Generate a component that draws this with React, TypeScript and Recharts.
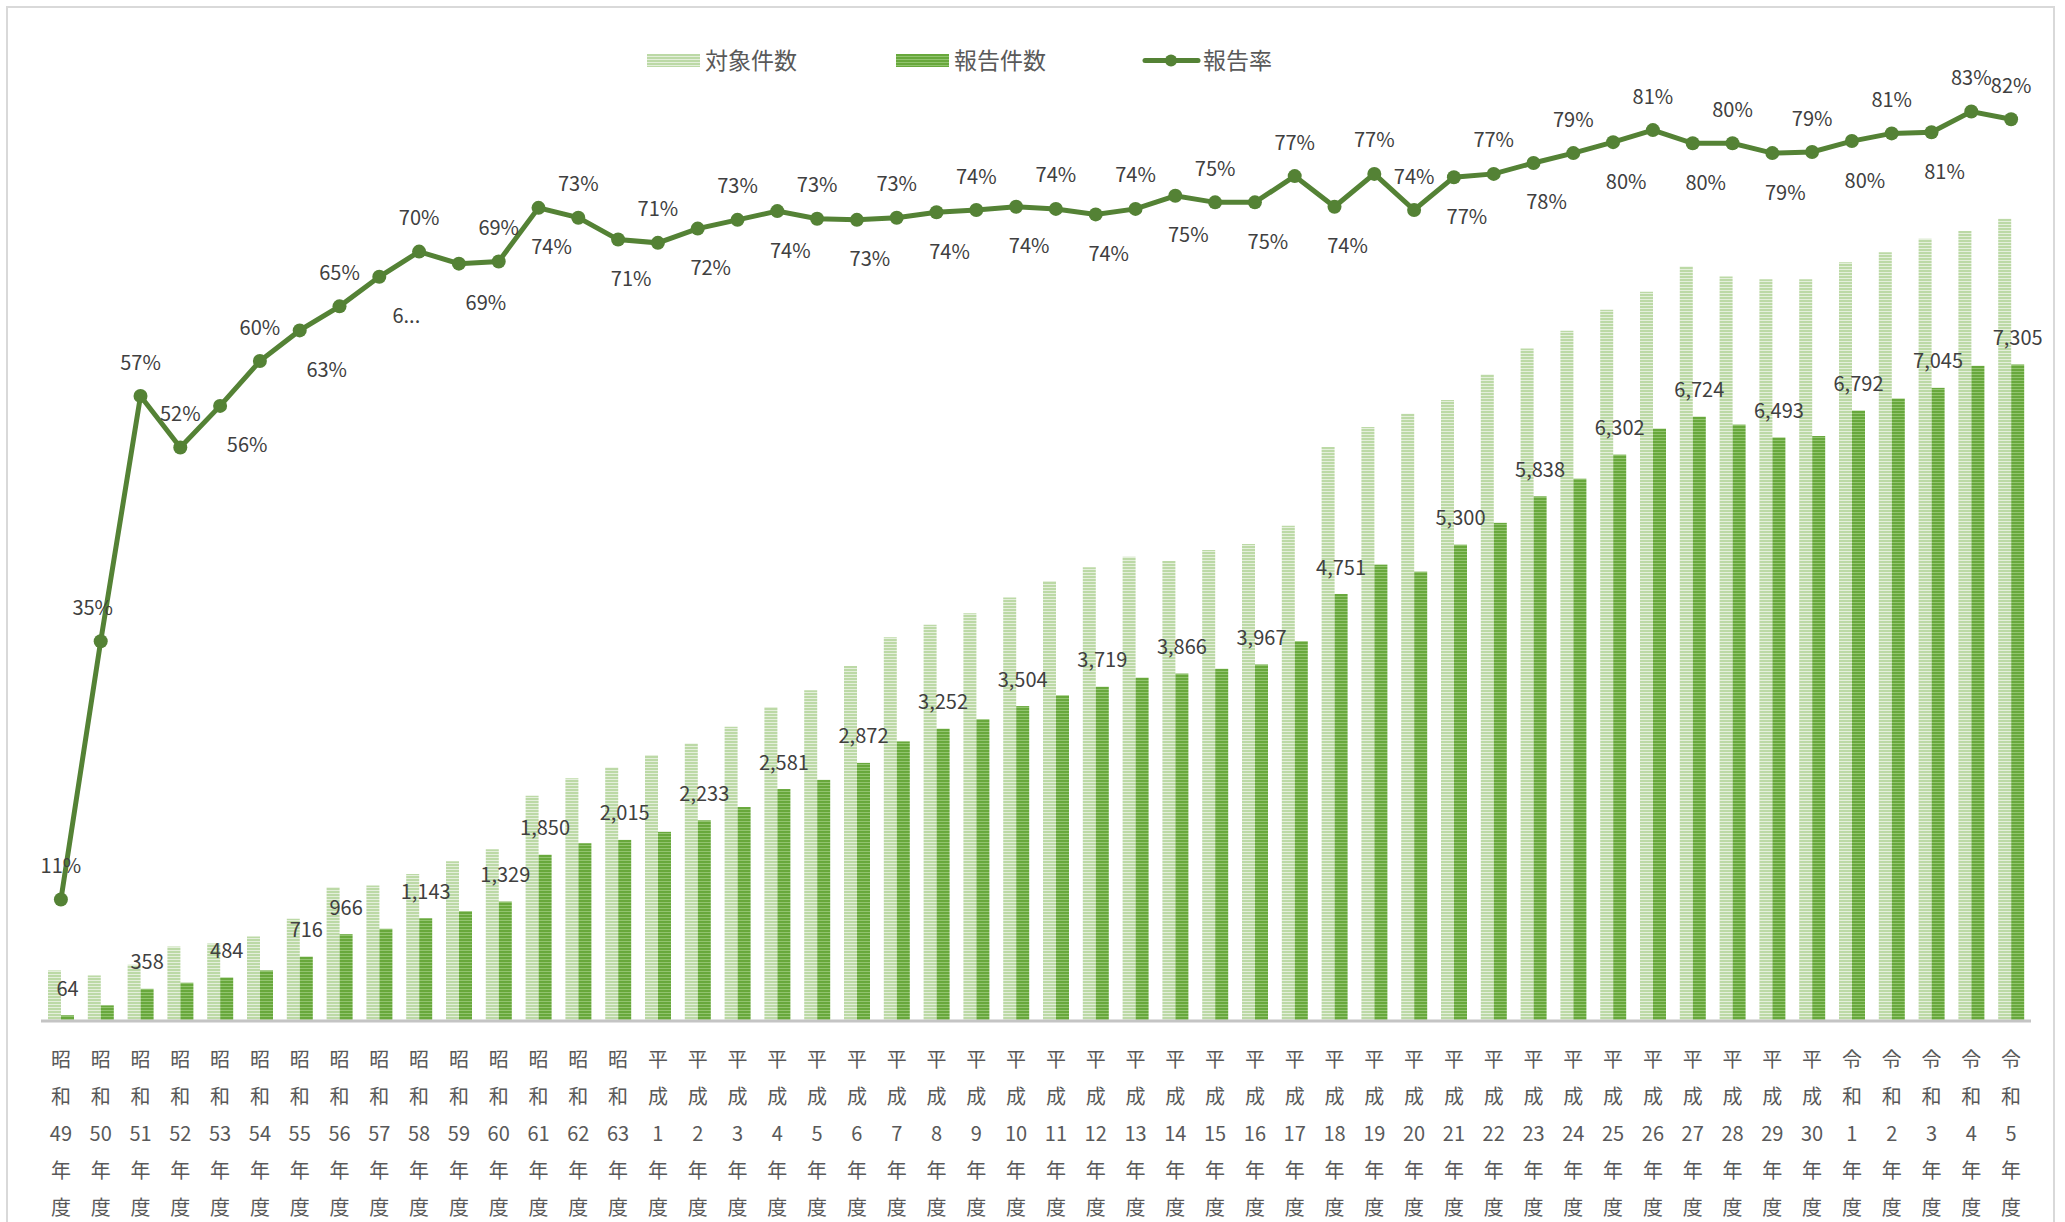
import React from 'react';
import { ComposedChart, Bar, Line, XAxis, YAxis, Legend } from 'recharts';

const categories = [
  '昭和49年度', '昭和50年度', '昭和51年度', '昭和52年度', '昭和53年度', '昭和54年度', '昭和55年度', '昭和56年度',
  '昭和57年度', '昭和58年度', '昭和59年度', '昭和60年度', '昭和61年度', '昭和62年度', '昭和63年度',
  '平成1年度', '平成2年度', '平成3年度', '平成4年度', '平成5年度', '平成6年度', '平成7年度', '平成8年度',
  '平成9年度', '平成10年度', '平成11年度', '平成12年度', '平成13年度', '平成14年度', '平成15年度', '平成16年度',
  '平成17年度', '平成18年度', '平成19年度', '平成20年度', '平成21年度', '平成22年度', '平成23年度', '平成24年度',
  '平成25年度', '平成26年度', '平成27年度', '平成28年度', '平成29年度', '平成30年度',
  '令和1年度', '令和2年度', '令和3年度', '令和4年度', '令和5年度',
];

// 対象件数
const targetCounts = [
  563, 507, 627, 830, 861, 941, 1137, 1489, 1507, 1637, 1778, 1911, 2507, 2700, 2822,
  2960, 3089, 3274, 3495, 3680, 3949, 4270, 4410, 4536, 4713, 4897, 5049, 5166, 5118, 5240,
  5307, 5510, 6388, 6610, 6758, 6910, 7193, 7483, 7680, 7915, 8115, 8394, 8283, 8253, 8253,
  8443, 8554, 8703, 8790, 8926,
];

// 報告件数
const reportCounts = [
  64, 174, 358, 426, 484, 563, 716, 966, 1026, 1143, 1222, 1329, 1850, 1978, 2015,
  2105, 2233, 2381, 2581, 2683, 2872, 3111, 3252, 3358, 3504, 3624, 3719, 3820, 3866, 3919,
  3967, 4226, 4751, 5078, 5000, 5300, 5543, 5838, 6034, 6302, 6591, 6724, 6636, 6493, 6509,
  6792, 6926, 7045, 7290, 7305,
];

// 報告率
const reportRates = [
  0.111, 0.347, 0.571, 0.524, 0.562, 0.603, 0.631, 0.653, 0.68, 0.703, 0.692, 0.694, 0.743, 0.734, 0.714,
  0.711, 0.724, 0.732, 0.74, 0.733, 0.732, 0.734, 0.739, 0.741, 0.744, 0.742, 0.737, 0.742, 0.754, 0.748,
  0.748, 0.772, 0.744, 0.774, 0.741, 0.771, 0.774, 0.784, 0.793, 0.803, 0.814, 0.802, 0.802, 0.793, 0.794,
  0.804, 0.811, 0.812, 0.831, 0.824,
];

// bars whose 報告件数 value is printed
const labeledReports = [0, 2, 4, 6, 7, 9, 11, 12, 14, 16, 18, 20, 22, 24, 26, 28, 30, 32, 35, 37, 39, 41, 43, 45, 47, 49];

const data = categories.map((name, i) => ({
  name,
  target: targetCounts[i],
  report: reportCounts[i],
  rate: reportRates[i],
}));

const FONT = "'Noto Sans CJK JP', 'Noto Sans', sans-serif";
const LINE_COLOR = '#548235';
const LABEL_COLOR = '#404040';

// rate labels sit under the point for these
const rateBelow = (i: number) =>
  (i >= 4 && i <= 33 && i % 2 === 0) || (i >= 35 && i <= 47 && i % 2 === 1);

const CategoryTick = (props: any) => {
  const { x, y, payload } = props;
  const s: string = payload.value;
  const parts = [s[0], s[1], s.slice(2, s.length - 2), '年', '度'];
  return (
    <g>
      {parts.map((p, k) => (
        <text
          key={k}
          x={x}
          y={y + 37 + k * 37}
          textAnchor="middle"
          dominantBaseline="central"
          fontSize={20}
          fontFamily={FONT}
          fill="#595959"
        >
          {p}
        </text>
      ))}
    </g>
  );
};

const ReportBar = (props: any) => {
  const { x, y, width, height, index, payload } = props;
  return (
    <g>
      <rect x={x} y={y} width={width} height={height} fill="url(#pDark)" />
      {labeledReports.includes(index) && (
        <text
          x={x + width / 2}
          y={y - 28}
          textAnchor="middle"
          dominantBaseline="central"
          fontSize={20}
          fontFamily={FONT}
          fill={LABEL_COLOR}
        >
          {payload.report.toLocaleString('en-US')}
        </text>
      )}
    </g>
  );
};

const RateDot = (props: any) => {
  const { cx, cy, index, value } = props;
  const below = rateBelow(index);
  const text = index === 8 ? '6...' : `${Math.round(value * 100)}%`;
  const dx = below ? (index <= 10 ? 27 : 13) : index === 1 ? -8 : 0;
  return (
    <g key={`dot-${index}`}>
      <circle cx={cx} cy={cy} r={7} fill={LINE_COLOR} />
      <text
        x={cx + dx}
        y={below ? cy + 38 : cy - 35}
        textAnchor="middle"
        dominantBaseline="central"
        fontSize={20}
        fontFamily={FONT}
        fill={LABEL_COLOR}
      >
        {text}
      </text>
    </g>
  );
};

const legendText: React.CSSProperties = {
  position: 'absolute',
  top: 44,
  fontSize: 23,
  lineHeight: '30px',
  color: '#595959',
  fontFamily: FONT,
};

const ChartLegend = () => (
  <div style={{ position: 'relative', width: 2065, height: 100 }}>
    <svg style={{ position: 'absolute', left: 0, top: 0 }} width={2065} height={100}>
      <rect x={647} y={54} width={53} height={13} fill="url(#pLight)" />
      <rect x={896} y={54} width={53} height={13} fill="url(#pDark)" />
      <line x1={1145} x2={1198} y1={60.5} y2={60.5} stroke={LINE_COLOR} strokeWidth={5} strokeLinecap="round" />
      <circle cx={1171} cy={60.5} r={6} fill={LINE_COLOR} />
    </svg>
    <span style={{ ...legendText, left: 705 }}>対象件数</span>
    <span style={{ ...legendText, left: 954 }}>報告件数</span>
    <span style={{ ...legendText, left: 1203 }}>報告率</span>
  </div>
);

export default function App() {
  return (
    <div style={{ position: 'absolute', left: 0, top: 0, width: 2065, height: 1222, background: '#fff', overflow: 'hidden' }}>
      <div
        style={{
          position: 'absolute',
          left: 6,
          top: 6,
          width: 2049,
          height: 1240,
          border: '2px solid #d9d9d9',
          boxSizing: 'border-box',
        }}
      />
      <svg width={0} height={0} style={{ position: 'absolute' }}>
        <defs>
          <pattern id="pLight" width={4} height={3} patternUnits="userSpaceOnUse">
            <rect width={4} height={3} fill="#e4efdb" />
            <rect width={4} height={2} fill="#bcd9a6" />
          </pattern>
          <pattern id="pDark" width={4} height={3} patternUnits="userSpaceOnUse">
            <rect width={4} height={3} fill="#92c46f" />
            <rect width={4} height={2} fill="#68a83c" />
          </pattern>
        </defs>
      </svg>
      <ComposedChart
        width={2065}
        height={1222}
        data={data}
        margin={{ top: 36, right: 34, bottom: 0, left: 41 }}
        barGap={0}
        style={{ position: 'absolute', left: 0, top: 0 }}
      >
        <XAxis
          dataKey="name"
          interval={0}
          height={201}
          tickLine={false}
          tickSize={0}
          tickMargin={0}
          axisLine={{ stroke: '#c4c4c4', strokeWidth: 3 }}
          tick={<CategoryTick />}
        />
        <YAxis yAxisId="count" domain={[0, 10960]} hide />
        <YAxis yAxisId="rate" orientation="right" domain={[0, 0.9]} hide />
        <Legend
          verticalAlign="middle"
          align="center"
          content={<ChartLegend />}
          wrapperStyle={{ top: 0, left: 0, width: 2065, height: 100 }}
        />
        <Bar yAxisId="count" dataKey="target" name="対象件数" fill="url(#pLight)" barSize={13} isAnimationActive={false} />
        <Bar
          yAxisId="count"
          dataKey="report"
          name="報告件数"
          fill="url(#pDark)"
          barSize={13}
          shape={<ReportBar />}
          isAnimationActive={false}
        />
        <Line
          yAxisId="rate"
          dataKey="rate"
          name="報告率"
          type="linear"
          stroke={LINE_COLOR}
          strokeWidth={5}
          dot={RateDot}
          activeDot={false}
          isAnimationActive={false}
        />
      </ComposedChart>
    </div>
  );
}
